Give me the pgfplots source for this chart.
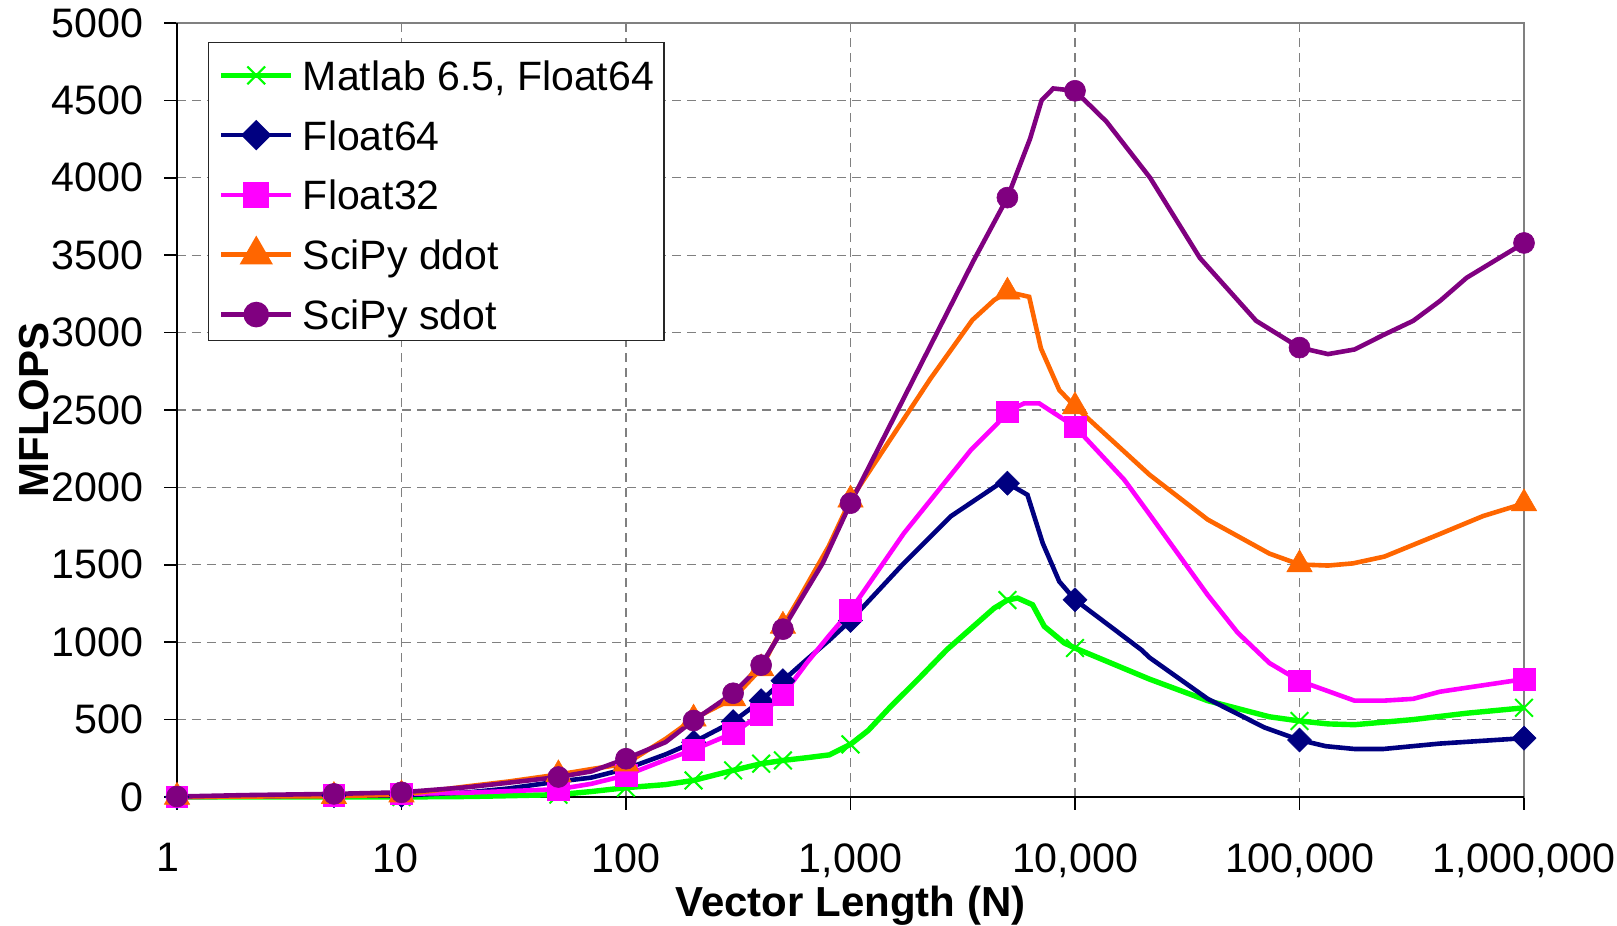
\documentclass[border=0pt]{standalone}
\usepackage{pgfplots}
\pgfplotsset{compat=1.18}
\usepackage{fontspec}
\setmainfont{Liberation Sans}
\definecolor{cG}{RGB}{0,255,0}
\definecolor{cN}{RGB}{0,0,128}
\definecolor{cM}{RGB}{255,0,255}
\definecolor{cO}{RGB}{255,102,0}
\definecolor{cP}{RGB}{128,0,128}
\definecolor{gridgray}{RGB}{128,128,128}
\newcommand{\bigf}{\fontsize{20.6}{25}\selectfont}
\newcommand{\legf}{\fontsize{20.5}{25}\selectfont}
\newcommand{\labf}{\fontsize{21}{25}\selectfont}
\begin{document}
\begin{tikzpicture}
\begin{axis}[
 name=ax,
 scale only axis, width=673.5pt, height=387pt,
 xmode=log, log basis x=10,
 xmin=1, xmax=1000000, ymin=0, ymax=5000,
 clip=false,
 xtick={1,10,100,1000,10000,100000,1000000},
 xticklabels={\hspace*{-8.7pt}1,\hspace*{-6pt}10,100,{1,000},{10,000},{100,000},{1,000,000}},
 xminorticks=false,
 ytick={0,500,...,5000},
 /pgf/number format/assume math mode=true,
 /pgf/number format/1000 sep={},
 tick label style={font=\bigf},
 grid=major,
 major grid style={draw=gridgray, line width=0.6pt, dash pattern=on 4.5pt off 3pt},
 axis line style={draw=gridgray, line width=0.9pt},
 tick style={black, line width=0.75pt},
 tick align=outside, tick pos=left,
 major tick length=6.5pt,
 yticklabel style={inner sep=0pt, anchor=east, xshift=-10.25pt},
 xticklabel style={inner sep=0pt, anchor=north, yshift=-16.5pt},
 xlabel={Vector Length (N)},
 ylabel={MFLOPS},
 label style={font=\labf\bfseries, inner sep=0pt},
 xlabel style={at={(axis description cs:0.5,-0.141)}, anchor=center},
 ylabel style={at={(axis description cs:-0.1062,0.5)}, anchor=center},
 legend style={at={(0.023,0.9755)}, anchor=north west, draw=black!85, line width=0.6pt,
   fill=white, font=\legf, inner xsep=5pt, inner ysep=5.66pt, row sep=11.7pt, column sep=4.5pt,
   nodes={inner sep=0pt, text height=18.2pt, text depth=0pt}},
 legend cell align=left,
]
\draw[black, line width=0.9pt] (rel axis cs:0,1) -- (rel axis cs:0,0) -- (rel axis cs:1,0);

% Matlab 6.5, Float64
\addplot[cG, line width=2.7pt, no marks,
 legend image code/.code={\draw[cG, line width=2.7pt] (0pt,-1.65pt) -- (35pt,-1.65pt);
   \draw[cG, line width=1pt] plot[only marks, mark=x, mark size=6.25pt] coordinates {(17.5pt,-1.65pt)};}]
coordinates {(1,0)(2,0)(5,0)(10,0)(20,3)(30,8)(50,15)(70,35)(100,60)(150,80)(200,107)(300,172)(400,215)(500,236)(650,255)(805,272)(1000,340)(1200,430)(1500,580)(2000,760)(2690,952)(4365,1220)(5000,1272)(5550,1285)(6470,1242)(7300,1102)(8960,995)(10000,962)(21500,761)(39000,622)(73500,518)(100000,491)(134000,472)(176000,467)(321000,500)(555000,541)(1000000,576)};
\addlegendentry{Matlab 6.5, Float64}
\addplot[cG, only marks, mark=x, mark size=6.25pt, mark options={line width=1pt}, forget plot]
coordinates {(1,0)(5,0)(10,0)(50,15)(100,60)(200,107)(300,172)(400,215)(500,236)(1000,340)(5000,1272)(10000,962)(100000,491)(1000000,576)};

% Float64
\addplot[cN, line width=2.3pt, no marks,
 legend image code/.code={\draw[cN, line width=2.3pt] (0pt,-1.65pt) -- (35pt,-1.65pt);
   \fill[cN] plot[only marks, mark=square*, mark size=4.24pt, mark options={rotate=45}] coordinates {(17.5pt,-1.65pt)};}]
coordinates {(1,0)(2,3)(5,8)(10,10)(20,30)(30,55)(50,100)(70,125)(100,182)(150,275)(200,354)(300,487)(400,622)(500,751)(641,890)(800,1010)(1000,1140)(1730,1511)(2790,1812)(4520,2016)(5000,2027)(6140,1952)(7180,1640)(8510,1392)(10000,1274)(19700,952)(21500,900)(39000,634)(69800,449)(100000,368)(131000,328)(176000,310)(236000,310)(422000,345)(1000000,380)};
\addlegendentry{Float64}
\addplot[cN, only marks, mark=square*, mark size=4.24pt, mark options={rotate=45, line width=0.3pt}, forget plot]
coordinates {(1,0)(5,8)(10,10)(50,100)(100,182)(200,354)(300,487)(400,622)(500,751)(1000,1140)(5000,2027)(10000,1274)(100000,368)(1000000,380)};

% Float32
\addplot[cM, line width=2.3pt, no marks,
 legend image code/.code={\draw[cM, line width=2.3pt] (0pt,-1.65pt) -- (35pt,-1.65pt);
   \fill[cM] plot[only marks, mark=square*, mark size=5.4pt] coordinates {(17.5pt,-1.65pt)};}]
coordinates {(1,0)(2,5)(5,12)(10,20)(20,28)(30,38)(50,50)(70,85)(100,140)(150,240)(200,305)(300,412)(400,536)(500,659)(641,869)(800,1040)(1000,1205)(1730,1704)(3440,2242)(4520,2414)(5000,2489)(5940,2543)(6920,2543)(10000,2392)(16600,2048)(21500,1825)(39000,1305)(53000,1062)(73500,865)(100000,750)(176000,622)(236000,622)(321000,634)(422000,680)(1000000,761)};
\addlegendentry{Float32}
\addplot[cM, only marks, mark=square*, mark size=5.4pt, mark options={line width=0.3pt}, forget plot]
coordinates {(1,0)(5,12)(10,20)(50,50)(100,140)(200,305)(300,412)(400,536)(500,659)(1000,1205)(5000,2489)(10000,2392)(100000,750)(1000000,761)};

% SciPy ddot
\addplot[cO, line width=2.3pt, no marks,
 legend image code/.code={\draw[cO, line width=2.3pt] (0pt,-1.65pt) -- (35pt,-1.65pt);
   \fill[cO] plot[only marks, mark=triangle*, mark size=7.3pt] coordinates {(17.5pt,-1.65pt)};}]
coordinates {(1,0)(2,3)(5,5)(10,15)(20,70)(30,100)(50,145)(70,180)(100,215)(150,375)(200,505)(300,636)(400,830)(500,1105)(600,1300)(800,1620)(1000,1920)(2275,2704)(3490,3081)(4365,3210)(5000,3263)(6250,3231)(7050,2898)(8510,2629)(10000,2522)(21500,2081)(39000,1792)(73500,1572)(100000,1502)(134000,1495)(173000,1509)(239000,1553)(422000,1699)(658000,1815)(1000000,1896)};
\addlegendentry{SciPy ddot}
\addplot[cO, only marks, mark=triangle*, mark size=7.3pt, mark options={line width=0.3pt}, forget plot]
coordinates {(1,0)(5,5)(10,15)(50,145)(100,215)(200,505)(300,636)(400,830)(500,1105)(1000,1920)(5000,3263)(10000,2522)(100000,1502)(1000000,1896)};

% SciPy sdot
\addplot[cP, line width=2.3pt, no marks,
 legend image code/.code={\draw[cP, line width=2.3pt] (0pt,-1.65pt) -- (35pt,-1.65pt);
   \fill[cP] plot[only marks, mark=*, mark size=5.25pt] coordinates {(17.5pt,-1.65pt)};}]
coordinates {(1,3)(2,12)(5,20)(10,30)(20,64)(30,92)(50,129)(70,165)(100,247)(150,354)(200,494)(300,670)(400,852)(500,1084)(600,1275)(754,1513)(1000,1898)(3520,3460)(5000,3872)(6310,4253)(7100,4500)(8000,4577)(10000,4562)(13800,4363)(21600,4000)(36000,3482)(64100,3076)(100000,2903)(134000,2861)(176000,2891)(236000,2984)(321000,3076)(422000,3204)(555000,3354)(1000000,3579)};
\addlegendentry{SciPy sdot}
\addplot[cP, only marks, mark=*, mark size=5.25pt, mark options={line width=0.3pt}, forget plot]
coordinates {(1,3)(5,20)(10,30)(50,129)(100,247)(200,494)(300,670)(400,852)(500,1084)(1000,1898)(5000,3872)(10000,4562)(100000,2903)(1000000,3579)};
\end{axis}
\path ([xshift=-88.5pt,yshift=-64.5pt]ax.south west) rectangle ([xshift=46.5pt,yshift=11.5pt]ax.north east);
\end{tikzpicture}
\end{document}
